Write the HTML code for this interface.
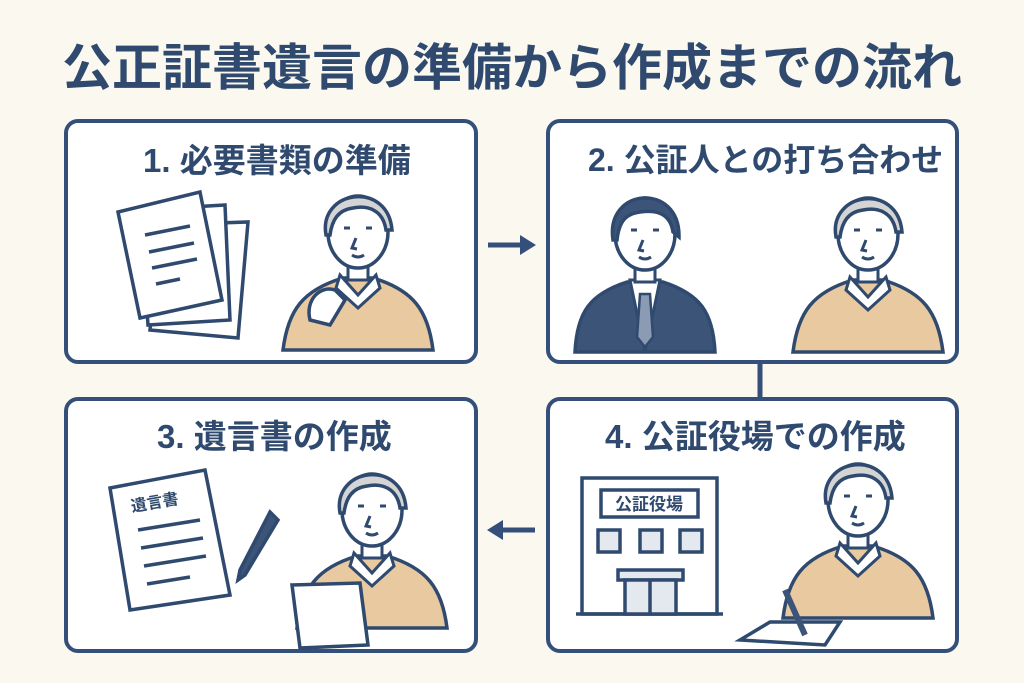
<!DOCTYPE html>
<html><head><meta charset="utf-8"><style>
body{margin:0;background:#fbf8ef;width:1024px;height:683px;overflow:hidden;font-family:"Liberation Sans","Noto Sans CJK JP",sans-serif}
.t{position:absolute;font-weight:bold;color:#2f4a6e;white-space:nowrap;line-height:1}
</style></head><body>
<svg width="1024" height="683" style="position:absolute;left:0;top:0">
<defs>
<g id="old">
 <path d="M-75,120 C-70,80 -55,60 -15,48 L15,48 C55,60 70,80 75,120 Z" fill="#e9c9a0" stroke="#2f4a6e" stroke-width="3.5"/>
 <path d="M-18,45 L0,65 L18,45 L22,58 L0,78 L-22,58 Z" fill="#fff" stroke="#2f4a6e" stroke-width="3"/>
 <rect x="-10" y="25" width="20" height="25" fill="#fff" stroke="#2f4a6e" stroke-width="3"/>
 <ellipse cx="0" cy="2" rx="30" ry="36" fill="#fff" stroke="#2f4a6e" stroke-width="3.5"/>
 <path d="M-32,5 C-40,-40 30,-50 34,0 L28,0 C25,-20 10,-25 -5,-22 C-20,-20 -26,-10 -28,5 Z" fill="#d4d4d4" stroke="#2f4a6e" stroke-width="3.5"/>
 <path d="M-14,-2 l6,0 M8,-2 l6,0 M-2,8 l-4,10 l5,1 M-6,25 q6,4 12,0" fill="none" stroke="#2f4a6e" stroke-width="3"/>
</g>
</defs>
<g fill="#fff" stroke="#34507a" stroke-width="4">
<rect x="66" y="121" width="410" height="241" rx="12"/>
<rect x="548" y="121" width="409" height="241" rx="12"/>
<rect x="66" y="399" width="410" height="252" rx="12"/>
<rect x="548" y="399" width="409" height="252" rx="12"/>
</g>
<g stroke="#34507a" stroke-width="5" fill="#34507a">
<line x1="488" y1="245" x2="522" y2="245"/><path d="M536,245 L520,235 L520,255Z" stroke="none"/>
<line x1="760" y1="362" x2="760" y2="399"/>
<line x1="535" y1="530" x2="501" y2="530"/><path d="M487,530 L503,520 L503,540Z" stroke="none"/>
</g>
<g stroke="#2f4a6e" stroke-width="3.5" fill="#fff">
<path d="M160,225 L248,222 L238,338 L150,330Z"/>
<path d="M140,210 L225,205 L230,320 L148,325Z"/>
<path d="M118,212 L200,192 L222,300 L140,318Z"/>
<path d="M145,235 L190,226 M149,252 L194,243 M152,268 L197,259 M156,284 L180,279" fill="none"/>
</g>
<use href="#old" transform="translate(358,230)"/>
<path d="M310,320 C305,300 320,285 335,290 L345,300 L330,325Z" fill="#fff" stroke="#2f4a6e" stroke-width="3.5"/>
<g transform="translate(645,232)">
 <path d="M-70,120 C-68,80 -55,62 -18,50 L18,50 C55,62 68,80 70,120 Z" fill="#3c5478" stroke="#2f4a6e" stroke-width="3.5"/>
 <path d="M-15,48 L0,120 L15,48 Z" fill="#fff" stroke="#2f4a6e" stroke-width="3"/>
 <path d="M-5,62 L5,62 L8,105 L0,115 L-8,105Z" fill="#8a9bb3" stroke="#2f4a6e" stroke-width="2.5"/>
 <rect x="-10" y="25" width="20" height="25" fill="#fff" stroke="#2f4a6e" stroke-width="3"/>
 <ellipse cx="0" cy="2" rx="30" ry="36" fill="#fff" stroke="#2f4a6e" stroke-width="3.5"/>
 <path d="M-32,8 C-40,-45 35,-50 34,5 L28,0 C25,-20 10,-22 -5,-20 C-20,-18 -26,-10 -28,8 Z" fill="#3c5478" stroke="#2f4a6e" stroke-width="3.5"/>
 <path d="M-14,-2 l6,0 M8,-2 l6,0 M-2,8 l-4,10 l5,1 M-6,25 q6,4 12,0" fill="none" stroke="#2f4a6e" stroke-width="3"/>
</g>
<use href="#old" transform="translate(868,232)"/>
<g stroke="#2f4a6e" stroke-width="3.5">
<path d="M110,488 L205,470 L230,595 L130,610Z" fill="#fff"/>
<path d="M138,530 L200,520 M141,548 L203,538 M144,566 L206,556 M147,584 L190,577" fill="none"/>
<path d="M270,512 L278,520 L245,575 L238,580 L240,570Z" fill="#3c5478"/>
</g>
<text x="132" y="512" font-size="16" font-weight="bold" fill="#2f4a6e" transform="rotate(-10 132 512)" font-family="Liberation Sans,Noto Sans CJK JP,sans-serif">遺言書</text>
<use href="#old" transform="translate(372,508)"/>
<path d="M292,585 L360,583 L368,645 L300,648Z" fill="#fff" stroke="#2f4a6e" stroke-width="3.5"/>
<g stroke="#2f4a6e" stroke-width="3.5">
<rect x="582" y="478" width="135" height="136" fill="#fff"/>
<line x1="576" y1="614" x2="723" y2="614"/>
<rect x="601" y="490" width="97" height="27" fill="#fff"/>
<rect x="598" y="530" width="22" height="22" fill="#e4e8ef"/>
<rect x="640" y="530" width="22" height="22" fill="#e4e8ef"/>
<rect x="680" y="530" width="22" height="22" fill="#e4e8ef"/>
<rect x="618" y="570" width="65" height="10" fill="#e4e8ef"/>
<rect x="625" y="580" width="51" height="34" fill="#e4e8ef"/>
<line x1="650" y1="580" x2="650" y2="614"/>
</g>
<text x="649" y="510" font-size="17" font-weight="bold" fill="#2f4a6e" text-anchor="middle" font-family="Liberation Sans,Noto Sans CJK JP,sans-serif">公証役場</text>
<use href="#old" transform="translate(858,498)"/>
<path d="M740,640 L770,622 L840,622 L825,645Z" fill="#fff" stroke="#2f4a6e" stroke-width="3.5"/>
<path d="M785,590 L805,635" stroke="#3c5478" stroke-width="6"/>
</svg>
<div class="t" style="left:0;width:1024px;text-align:center;top:43px;font-size:50px">公正証書遺言の準備から作成までの流れ</div>
<div class="t" style="left:143px;top:144px;font-size:33px">1. 必要書類の準備</div>
<div class="t" style="left:588px;top:144px;font-size:32px">2. 公証人との打ち合わせ</div>
<div class="t" style="left:157px;top:420px;font-size:33px">3. 遺言書の作成</div>
<div class="t" style="left:605px;top:420px;font-size:33px">4. 公証役場での作成</div>
</body></html>
